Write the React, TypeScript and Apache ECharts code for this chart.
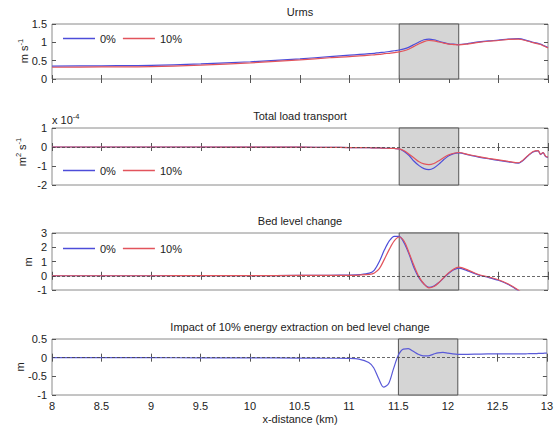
import React, { useEffect, useRef } from "react";
import * as echarts from "echarts";

const xs = [8, 8.5, 9, 9.5, 10, 10.5, 10.8, 11, 11.1, 11.2, 11.25, 11.3, 11.35, 11.4, 11.45, 11.5, 11.55, 11.6, 11.65, 11.7, 11.75, 11.8, 11.85, 11.9, 11.95, 12, 12.05, 12.1, 12.2, 12.3, 12.4, 12.5, 12.6, 12.7, 12.8, 12.85, 12.9, 12.925, 12.95, 12.975, 13];

const urms0 = [0.35, 0.36, 0.37, 0.41, 0.47, 0.55, 0.61, 0.65, 0.67, 0.69, 0.70, 0.72, 0.73, 0.75, 0.77, 0.79, 0.82, 0.87, 0.94, 1.01, 1.07, 1.09, 1.07, 1.03, 0.99, 0.96, 0.95, 0.94, 0.97, 1.01, 1.04, 1.06, 1.09, 1.10, 1.04, 1.0, 0.97, 0.95, 0.92, 0.89, 0.86];
const urms10 = [0.32, 0.33, 0.34, 0.38, 0.44, 0.52, 0.58, 0.61, 0.63, 0.65, 0.66, 0.67, 0.69, 0.70, 0.72, 0.74, 0.77, 0.82, 0.89, 0.96, 1.02, 1.05, 1.04, 1.01, 0.98, 0.95, 0.94, 0.93, 0.96, 1.0, 1.03, 1.05, 1.08, 1.09, 1.03, 0.99, 0.96, 0.94, 0.91, 0.88, 0.85];

const load0 = [0, 0, 0, 0, -0.005, -0.01, -0.02, -0.03, -0.035, -0.04, -0.045, -0.05, -0.06, -0.07, -0.08, -0.1, -0.24, -0.45, -0.75, -0.98, -1.14, -1.19, -1.1, -0.9, -0.66, -0.46, -0.35, -0.31, -0.42, -0.53, -0.62, -0.7, -0.78, -0.85, -0.46, -0.26, -0.2, -0.4, -0.3, -0.5, -0.55];
const load10 = [0, 0, 0, 0, -0.005, -0.01, -0.02, -0.03, -0.035, -0.04, -0.045, -0.05, -0.06, -0.07, -0.08, -0.1, -0.2, -0.38, -0.58, -0.78, -0.89, -0.93, -0.87, -0.72, -0.55, -0.41, -0.33, -0.29, -0.4, -0.51, -0.6, -0.68, -0.76, -0.83, -0.44, -0.24, -0.19, -0.38, -0.29, -0.48, -0.53];

const bed0 = [0, 0, 0, 0.01, 0.01, 0.02, 0.03, 0.05, 0.08, 0.18, 0.4, 1.0, 1.8, 2.45, 2.77, 2.76, 2.3, 1.5, 0.55, -0.15, -0.58, -0.82, -0.72, -0.47, -0.15, 0.17, 0.42, 0.54, 0.32, 0.05, -0.12, -0.32, -0.62, -1.05, -1.6, -1.9, -2.2, -2.35, -2.5, -2.65, -2.8];
const bed10 = [0, 0, 0, 0.01, 0.01, 0.02, 0.02, 0.03, 0.05, 0.1, 0.2, 0.5, 1.15, 1.85, 2.45, 2.72, 2.42, 1.6, 0.7, -0.08, -0.58, -0.85, -0.76, -0.48, -0.12, 0.22, 0.48, 0.6, 0.38, 0.09, -0.08, -0.28, -0.58, -1.0, -1.55, -1.85, -2.15, -2.3, -2.45, -2.6, -2.75];

const impact = [0, 0, 0, -0.005, -0.005, -0.01, -0.015, -0.02, -0.04, -0.13, -0.27, -0.56, -0.79, -0.7, -0.3, 0.07, 0.23, 0.24, 0.17, 0.09, 0.05, 0.05, 0.09, 0.13, 0.14, 0.12, 0.1, 0.09, 0.09, 0.095, 0.1, 0.1, 0.1, 0.1, 0.105, 0.11, 0.11, 0.115, 0.115, 0.12, 0.12];

const titles = ["Urms", "Total load transport", "Bed level change", "Impact of 10% energy extraction on bed level change"];
const yRanges = [
  { min: 0, max: 1.5, interval: 0.5 },
  { min: -2, max: 1, interval: 1 },
  { min: -1, max: 3, interval: 1 },
  { min: -1, max: 0.5, interval: 0.5 },
];
const legendNames = ["0%", "10%"];
const shadeRange = [11.5, 12.1];

const FONT = "Liberation Sans, Arial, sans-serif";
const BLUE = "#4d4dd9";
const RED = "#e2545c";
const TXT = "#222";

const grids = [
  { top: 24, height: 55 },
  { top: 128, height: 57 },
  { top: 233, height: 57 },
  { top: 339, height: 56 },
];

export default function App() {
  const ref = useRef<HTMLDivElement>(null);
  useEffect(() => {
    if (!ref.current) return;
    const chart = echarts.init(ref.current, undefined, { renderer: "svg" });
    const pairs = (ys: number[]) => xs.map((x, i) => [x, ys[i]]);

    const gridOpts = grids.map((g) => ({
      left: 52,
      width: 496,
      top: g.top,
      height: g.height,
      show: true,
      borderColor: "#8a8a8a",
      borderWidth: 1,
      backgroundColor: "transparent",
    }));

    const xAxes: any[] = [];
    const yAxes: any[] = [];
    grids.forEach((_, i) => {
      ["bottom", "top"].forEach((pos) => {
        xAxes.push({
          type: "value",
          gridIndex: i,
          position: pos,
          min: 8,
          max: 13,
          interval: 0.5,
          axisLine: { show: false },
          splitLine: { show: false },
          axisTick: { show: true, inside: true, length: 4, lineStyle: { color: "#555" } },
          axisLabel: {
            show: i === 3 && pos === "bottom",
            fontFamily: FONT,
            fontSize: 11,
            color: TXT,
            margin: 5,
          },
        });
      });
      ["left", "right"].forEach((pos) => {
        yAxes.push({
          type: "value",
          gridIndex: i,
          position: pos,
          min: yRanges[i].min,
          max: yRanges[i].max,
          interval: yRanges[i].interval,
          axisLine: { show: false },
          splitLine: { show: false },
          axisTick: { show: true, inside: true, length: 4, lineStyle: { color: "#555" } },
          axisLabel: {
            show: pos === "left",
            fontFamily: FONT,
            fontSize: 11,
            color: TXT,
            margin: 5,
          },
        });
      });
    });

    const shade = {
      silent: true,
      itemStyle: { color: "#d5d5d5", borderColor: "#555", borderWidth: 1 },
      data: [[{ xAxis: shadeRange[0] }, { xAxis: shadeRange[1] }]],
    };
    const zero = {
      silent: true,
      symbol: "none",
      label: { show: false },
      lineStyle: { color: "#444", type: [3, 2], width: 0.8 },
      data: [{ yAxis: 0 }],
    };

    const mk = (name: string, i: number, ys: number[], color: string, extra: any = {}) => ({
      type: "line",
      name,
      xAxisIndex: 2 * i,
      yAxisIndex: 2 * i,
      data: pairs(ys),
      smooth: 0.3,
      symbol: "none",
      showSymbol: false,
      lineStyle: { color, width: 1.2 },
      itemStyle: { color },
      ...extra,
    });

    const series = [
      mk("0%", 0, urms0, BLUE, { markArea: shade }),
      mk("10%", 0, urms10, RED),
      mk("0%", 1, load0, BLUE, { markArea: shade, markLine: zero }),
      mk("10%", 1, load10, RED),
      mk("0%", 2, bed0, BLUE, { markArea: shade, markLine: zero }),
      mk("10%", 2, bed10, RED),
      mk("impact", 3, impact, "#5a5ad8", { markArea: shade, markLine: zero }),
    ];

    const legendTops = [33, 165, 243];
    const legends = legendTops.map((t) => ({
      left: 63,
      top: t,
      padding: 0,
      data: legendNames,
      icon: "rect",
      itemWidth: 32,
      itemHeight: 1.5,
      itemGap: 7,
      selectedMode: false,
      textStyle: { fontFamily: FONT, fontSize: 11, color: TXT },
    }));

    const titleTexts = grids.map((g, i) => ({
      type: "text",
      x: 300,
      y: g.top - 12,
      style: {
        text: titles[i],
        fontFamily: FONT,
        fontSize: 11,
        fill: TXT,
        align: "center",
        verticalAlign: "middle",
      },
    }));

    const rich = {
      a: { fontFamily: FONT, fontSize: 11, fill: TXT, lineHeight: 16 },
      b: { fontFamily: FONT, fontSize: 7.5, fill: TXT, verticalAlign: "top", lineHeight: 8 },
    };
    const yNames = [
      { text: "{a|m s}{b|-1}", x: 24, y: 51 },
      { text: "{a|m}{b|2}{a| s}{b|-1}", x: 22, y: 152 },
      { text: "{a|m}", x: 28, y: 262 },
      { text: "{a|m}", x: 20, y: 367 },
    ].map((n) => ({
      type: "text",
      x: n.x,
      y: n.y,
      rotation: Math.PI / 2,
      style: {
        text: n.text,
        rich,
        align: "center",
        verticalAlign: "middle",
      },
    }));

    chart.setOption({
      animation: false,
      backgroundColor: "#fff",
      grid: gridOpts,
      xAxis: xAxes,
      yAxis: yAxes,
      legend: legends,
      series,
      graphic: [
        ...titleTexts,
        ...yNames,
        {
          type: "text",
          x: 52,
          y: 120,
          style: {
            text: "{a|x 10}{b|-4}",
            rich,
            align: "left",
            verticalAlign: "middle",
          },
        },
        {
          type: "text",
          x: 300,
          y: 419,
          style: {
            text: "x-distance (km)",
            fontFamily: FONT,
            fontSize: 11,
            fill: TXT,
            align: "center",
            verticalAlign: "middle",
          },
        },
      ],
    });
    return () => chart.dispose();
  }, []);
  return (
    <div
      ref={ref}
      style={{ position: "fixed", left: 0, top: 0, width: 556, height: 425, background: "#fff" }}
    />
  );
}
